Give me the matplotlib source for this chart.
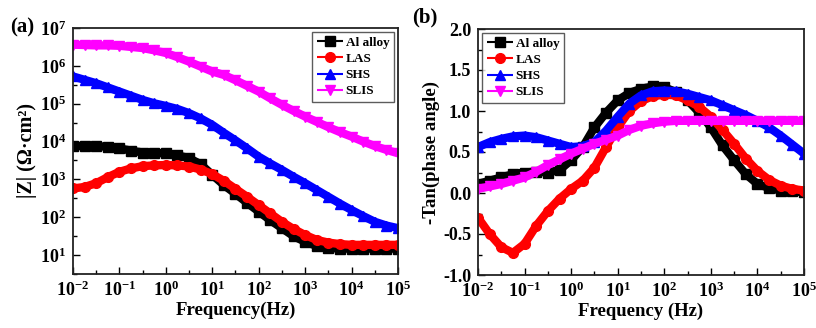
import numpy as np
import matplotlib
matplotlib.use("Agg")
import matplotlib.pyplot as plt
from matplotlib.ticker import FixedLocator, LogFormatterMathtext, MultipleLocator, NullFormatter

plt.rcParams['font.family'] = ['Liberation Serif', 'DejaVu Serif']
plt.rcParams['font.weight'] = 'bold'
plt.rcParams['mathtext.fontset'] = 'custom'
plt.rcParams['mathtext.rm'] = 'Liberation Serif:bold'
plt.rcParams['mathtext.bf'] = 'Liberation Serif:bold'
plt.rcParams['mathtext.it'] = 'Liberation Serif:bold:italic'

# log10 of frequency (Hz)
log_freq = [-2.0, -1.75, -1.5, -1.25, -1.0, -0.75, -0.5, -0.25, 0.0, 0.25, 0.5, 0.75,
            1.0, 1.25, 1.5, 1.75, 2.0, 2.25, 2.5, 2.75, 3.0, 3.25, 3.5, 3.75,
            4.0, 4.25, 4.5, 4.75, 5.0]

series = ["Al alloy", "LAS", "SHS", "SLIS"]

# log10 |Z| (Ohm cm^2)
logz_al = [3.88, 3.88, 3.88, 3.86, 3.82, 3.76, 3.71, 3.70, 3.69, 3.64, 3.56, 3.40,
           3.12, 2.85, 2.62, 2.38, 2.15, 1.92, 1.71, 1.50, 1.35, 1.24, 1.19, 1.17,
           1.17, 1.17, 1.17, 1.17, 1.17]
logz_las = [2.76, 2.80, 2.90, 3.06, 3.20, 3.29, 3.35, 3.37, 3.38, 3.37, 3.34, 3.26,
            3.14, 2.96, 2.75, 2.54, 2.32, 2.10, 1.88, 1.69, 1.53, 1.40, 1.33, 1.29,
            1.27, 1.27, 1.27, 1.27, 1.27]
logz_shs = [5.72, 5.63, 5.54, 5.43, 5.32, 5.21, 5.10, 5.01, 4.94, 4.86, 4.75, 4.61,
            4.44, 4.23, 4.03, 3.82, 3.60, 3.42, 3.25, 3.07, 2.90, 2.72, 2.54, 2.36,
            2.19, 2.03, 1.88, 1.78, 1.71]
logz_slis = [6.56, 6.55, 6.54, 6.54, 6.53, 6.50, 6.47, 6.41, 6.34, 6.23, 6.11, 5.98,
             5.85, 5.76, 5.62, 5.47, 5.32, 5.14, 4.97, 4.81, 4.66, 4.52, 4.38, 4.25,
             4.13, 4.00, 3.88, 3.78, 3.69]

# -tan(phase angle)
tan_al = [0.11, 0.15, 0.19, 0.23, 0.25, 0.26, 0.25, 0.28, 0.40, 0.56, 0.80, 0.98,
          1.13, 1.22, 1.27, 1.30, 1.29, 1.23, 1.13, 0.98, 0.80, 0.58, 0.40, 0.23,
          0.11, 0.06, 0.03, 0.02, 0.01]
tan_las = [-0.30, -0.50, -0.66, -0.73, -0.62, -0.40, -0.22, -0.07, 0.05, 0.15, 0.31, 0.56,
           0.80, 1.00, 1.12, 1.18, 1.20, 1.19, 1.13, 1.05, 0.93, 0.77, 0.60, 0.42,
           0.27, 0.16, 0.09, 0.05, 0.03]
tan_shs = [0.56, 0.62, 0.66, 0.69, 0.70, 0.68, 0.64, 0.60, 0.56, 0.57, 0.62, 0.76,
           0.93, 1.09, 1.19, 1.24, 1.25, 1.24, 1.21, 1.17, 1.13, 1.07, 1.01, 0.95,
           0.88, 0.80, 0.70, 0.59, 0.48]
tan_slis = [0.05, 0.08, 0.11, 0.15, 0.19, 0.26, 0.34, 0.41, 0.48, 0.54, 0.60, 0.65,
            0.70, 0.77, 0.82, 0.85, 0.87, 0.88, 0.88, 0.88, 0.88, 0.88, 0.88, 0.88,
            0.88, 0.88, 0.88, 0.88, 0.88]

colors = ["#000000", "#ff0000", "#0000ff", "#ff00ff"]
markers = ["s", "o", "^", "v"]

freq = 10.0 ** np.array(log_freq)

fig = plt.figure(figsize=(8.16, 3.28), dpi=100)
ax1 = fig.add_axes([73/816, 1-274/328, (398-73)/816, (274-28)/328])
ax2 = fig.add_axes([478/816, 1-275/328, (804-478)/816, (275-29)/328])

za = [logz_al, logz_las, logz_shs, logz_slis]
ta = [tan_al, tan_las, tan_shs, tan_slis]

for i in range(4):
    ax1.plot(freq, 10.0 ** np.array(za[i]), color=colors[i], lw=6.0, marker=markers[i],
             ms=7, mec=colors[i], mfc=colors[i], label=series[i], solid_capstyle='butt')
    ax2.plot(freq, ta[i], color=colors[i], lw=6.0, marker=markers[i],
             ms=7, mec=colors[i], mfc=colors[i], label=series[i], solid_capstyle='butt')

for ax in (ax1, ax2):
    ax.set_xscale('log')
    ax.set_xlim(1e-2, 1e5)
    ax.xaxis.set_major_locator(FixedLocator([10.0**k for k in range(-2, 6)]))
    ax.xaxis.set_minor_locator(FixedLocator([10.0**(k+0.5) for k in range(-2, 5)]))
    ax.xaxis.set_major_formatter(LogFormatterMathtext())
    ax.xaxis.set_minor_formatter(NullFormatter())
    ax.tick_params(which='both', direction='in', top=False, right=False, labelsize=13, pad=5)
    ax.tick_params(which='major', length=5, width=1.0)
    ax.tick_params(which='minor', length=3, width=1.0)
    for s in ax.spines.values():
        s.set_linewidth(1.3)
        s.set_color('#222222')
    for lab in ax.get_xticklabels() + ax.get_yticklabels():
        lab.set_fontweight('bold')

ax1.set_yscale('log')
ax1.set_ylim(10**0.5, 1e7)
ax1.yaxis.set_major_locator(FixedLocator([10.0**k for k in range(1, 8)]))
ax1.yaxis.set_minor_locator(FixedLocator([10.0**(k+0.5) for k in range(0, 7)]))
ax1.yaxis.set_major_formatter(LogFormatterMathtext())
ax1.yaxis.set_minor_formatter(NullFormatter())

ax2.set_ylim(-1.0, 2.0)
ax2.yaxis.set_major_locator(MultipleLocator(0.5))
ax2.yaxis.set_minor_locator(MultipleLocator(0.25))
ax2.set_yticks([-1.0, -0.5, 0.0, 0.5, 1.0, 1.5, 2.0])
ax2.set_yticklabels(["-1.0", "-0.5", "0.0", "0.5", "1.0", "1.5", "2.0"], fontweight='bold')

ax1.set_xlabel("Frequency(Hz)", fontsize=13.5, fontweight='bold', labelpad=1)
ax2.set_xlabel("Frequency (Hz)", fontsize=13.5, fontweight='bold', labelpad=1)
ax1.set_ylabel("|Z| (Ω·cm²)", fontsize=14.5, fontweight='bold', labelpad=2)
ax2.set_ylabel("-Tan(phase angle)", fontsize=13.5, fontweight='bold', labelpad=2)

fig.text(10/816, 1-27/328, "(a)", fontsize=15, fontweight='bold', ha='left', va='center')
fig.text(412/816, 1-17/328, "(b)", fontsize=15, fontweight='bold', ha='left', va='center')

legkw = dict(fontsize=9.5, frameon=True, fancybox=False, edgecolor='#333333',
             handlelength=2.0, handletextpad=0.2, borderpad=0.35, labelspacing=0.3,
             borderaxespad=0.3, numpoints=1, markerscale=1.0)
l1 = ax1.legend(loc='upper right', **legkw)
l2 = ax2.legend(loc='upper left', **legkw)
for leg in (l1, l2):
    leg.get_frame().set_linewidth(1.0)
    for h in leg.get_lines():
        h.set_linewidth(1.5)
    for t in leg.get_texts():
        t.set_fontweight('bold')

fig.savefig("out.png", dpi=100)
